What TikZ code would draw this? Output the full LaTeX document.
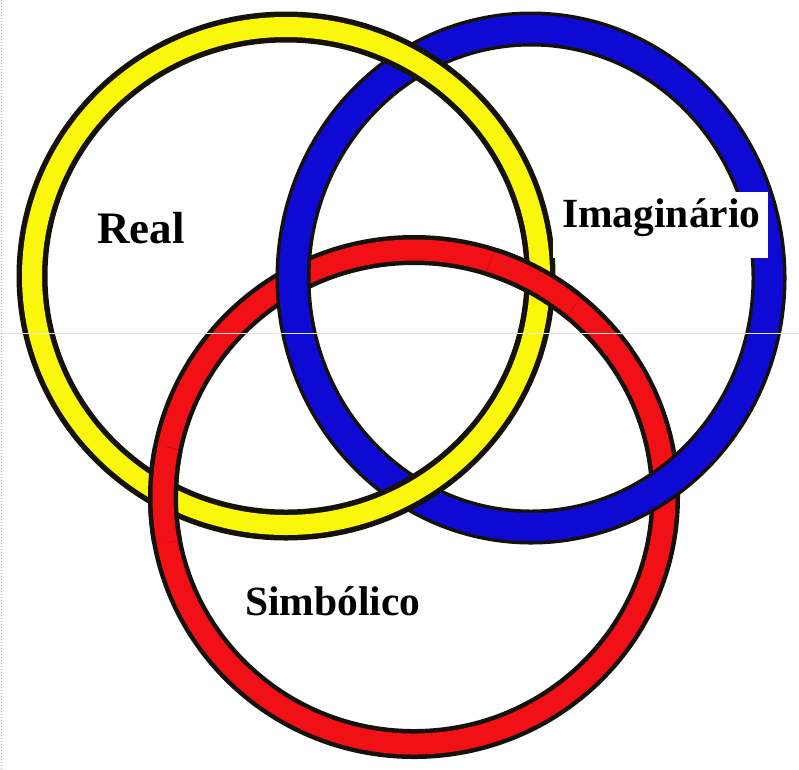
\documentclass[tikz,border=0pt]{standalone}
\usepackage{fontspec}
\setmainfont{Liberation Serif}
\definecolor{ringyellow}{RGB}{250,246,12}
\definecolor{ringblue}{RGB}{14,10,212}
\definecolor{ringred}{RGB}{240,16,22}
\definecolor{rimcol}{RGB}{20,18,10}
\begin{document}
\begin{tikzpicture}[x=1pt,y=-1pt,
  yrim/.style={draw=rimcol,line width=31pt},
  yband/.style={draw=ringyellow,line width=20pt},
  brim/.style={draw=rimcol,line width=35pt},
  bband/.style={draw=ringblue,line width=28pt},
  rrim/.style={draw=rimcol,line width=30pt},
  rband/.style={draw=ringred,line width=21pt},
  lbl/.style={font=\bfseries,inner sep=0pt,anchor=base west,text=black}]
\useasboundingbox (0,0) rectangle (799,769);
\fill[white] (0,0) rectangle (799,769);
% red ring (bottom)
\path[rrim] (414,497) ellipse [x radius=251pt, y radius=247pt];
\path[rband] (414,497) ellipse [x radius=251pt, y radius=247pt];
% blue ring over red
\path[brim] (531,278) ellipse [x radius=238pt, y radius=249pt];
\path[bband] (531,278) ellipse [x radius=238pt, y radius=249pt];
% yellow ring over blue
\path[yrim] (286,276) ellipse [x radius=254pt, y radius=249pt];
\path[yband] (286,276) ellipse [x radius=254pt, y radius=249pt];
% red over yellow at its two crossings
\begin{scope}
  \clip (534,280) circle [radius=48pt] (162,495) circle [radius=48pt];
  \path[rrim] (414,497) ellipse [x radius=251pt, y radius=247pt];
  \path[rband] (414,497) ellipse [x radius=251pt, y radius=247pt];
\end{scope}
% labels
\node[lbl,font=\bfseries\fontsize{45}{50}\selectfont] (real) at (97,243) {Real};
\fill[white] (553,192) rectangle (768,258);
\node[lbl,font=\bfseries\fontsize{41.5}{46}\selectfont] (imag) at (562,227) {Imaginário};
\node[lbl,font=\bfseries\fontsize{41.5}{46}\selectfont] (simb) at (245,615) {Simbólico};
% faint scan artefacts
\draw[line width=0.8pt,draw={rgb,255:red,228;green,228;blue,228}] (0,333) -- (799,333);
\draw[line width=1pt,dotted,draw={rgb,255:red,170;green,170;blue,170}] (1,0) -- (1,769);
\end{tikzpicture}
\end{document}
